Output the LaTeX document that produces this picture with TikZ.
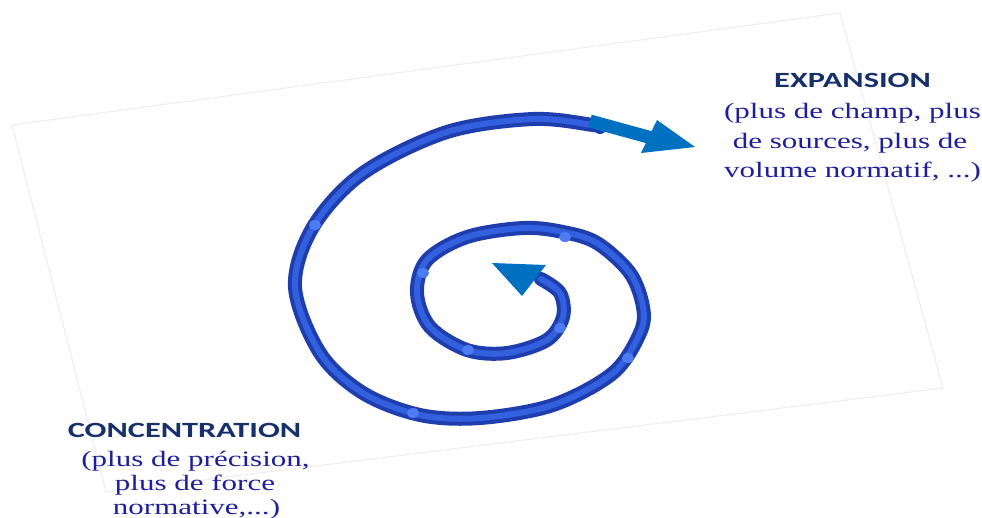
\documentclass[tikz,border=0pt]{standalone}
\usepackage{fontspec}
\setmainfont{Liberation Serif}
\newfontfamily\titlefont{Carlito}
\definecolor{titlenavy}{HTML}{16306A}
\definecolor{bodynavy}{HTML}{1E1E9C}
\definecolor{spiraldark}{HTML}{1F3EAE}
\definecolor{spirallight}{HTML}{3360DE}
\definecolor{spiralspot}{HTML}{4D7BF2}
\definecolor{arrowblue}{HTML}{0070C0}
\definecolor{paperedge}{HTML}{EDEDED}
\begin{document}
\begin{tikzpicture}[x=1pt,y=-1pt,
  titletext/.style={font=\titlefont\bfseries\fontsize{21.7}{26}\selectfont, text=titlenavy, inner sep=0pt, xscale=1.49, anchor=base},
  bodytext/.style={font=\fontsize{22}{29.5}\selectfont, text=bodynavy, inner sep=0pt, xscale=1.41, anchor=base},
  spiralouter/.style={spiraldark, line width=14pt, line cap=round, line join=round},
  spiralinner/.style={spirallight, line width=6pt, line cap=round, line join=round},
  spotmark/.style={fill=spiralspot, draw=none},
  arrowfill/.style={fill=arrowblue, draw=none},
  paperline/.style={draw=paperedge, line width=1pt}
]
\useasboundingbox[fill=white] (0,0) rectangle (982,517);

% faint background sheet
\coordinate (p1) at (12,125);
\coordinate (p2) at (840,13);
\coordinate (p3) at (943,388);
\coordinate (p4) at (106,492);
\draw[paperline] (p1) -- (p2) -- (p3) -- (p4) -- cycle;

% spiral
\def\spiralpts{(600,127) (593,125) (533,119) (447,132) (363,173) (313,227) (295,287) (320,353) (363,393) (420,415) (480,418) (553,405) (613,373) (640,333) (643,307) (630,273) (597,243) (563,232) (523,228) (467,237) (427,260) (417,293) (430,327) (467,350) (507,353) (547,340) (563,317) (560,293) (541,279)}
\draw[spiralouter] plot[smooth, tension=0.55] coordinates {\spiralpts};
\draw[spiralinner] plot[smooth, tension=0.55] coordinates {\spiralpts};

\foreach \sx/\sy in {315/225, 565/237, 423/273, 560/328, 468/350, 628/358, 413/413}
  \fill[spotmark] (\sx,\sy) ellipse (6pt and 5pt);

% outer arrow
\coordinate (shaftA) at (590,121);
\coordinate (shaftB) at (652,138);
\draw[arrowblue, line width=13pt] (shaftA) -- (shaftB);
\coordinate (oh1) at (657,120);
\coordinate (oh2) at (695,147);
\coordinate (oh3) at (641,153);
\fill[arrowfill] (oh1) -- (oh2) -- (oh3) -- cycle;

% inner arrow head
\coordinate (ih1) at (492,263);
\coordinate (ih2) at (546,265);
\coordinate (ih3) at (522,296);
\fill[arrowfill] (ih1) -- (ih2) -- (ih3) -- cycle;

% texts
\node[titletext] (exptitle) at (852.5,87) {EXPANSION};
\node[bodytext] (exp1) at (852.5,118.5) {(plus de champ, plus};
\node[bodytext] (exp2) at (850,148) {de sources, plus de};
\node[bodytext] (exp3) at (852.5,177.5) {volume normatif, ...)};

\node[titletext] (contitle) at (184.5,437) {CONCENTRATION};
\node[bodytext] (con1) at (195.5,466) {(plus de précision,};
\node[bodytext] (con2) at (195,490) {plus de force};
\node[bodytext] (con3) at (196.5,514) {normative,...)};
\end{tikzpicture}
\end{document}
